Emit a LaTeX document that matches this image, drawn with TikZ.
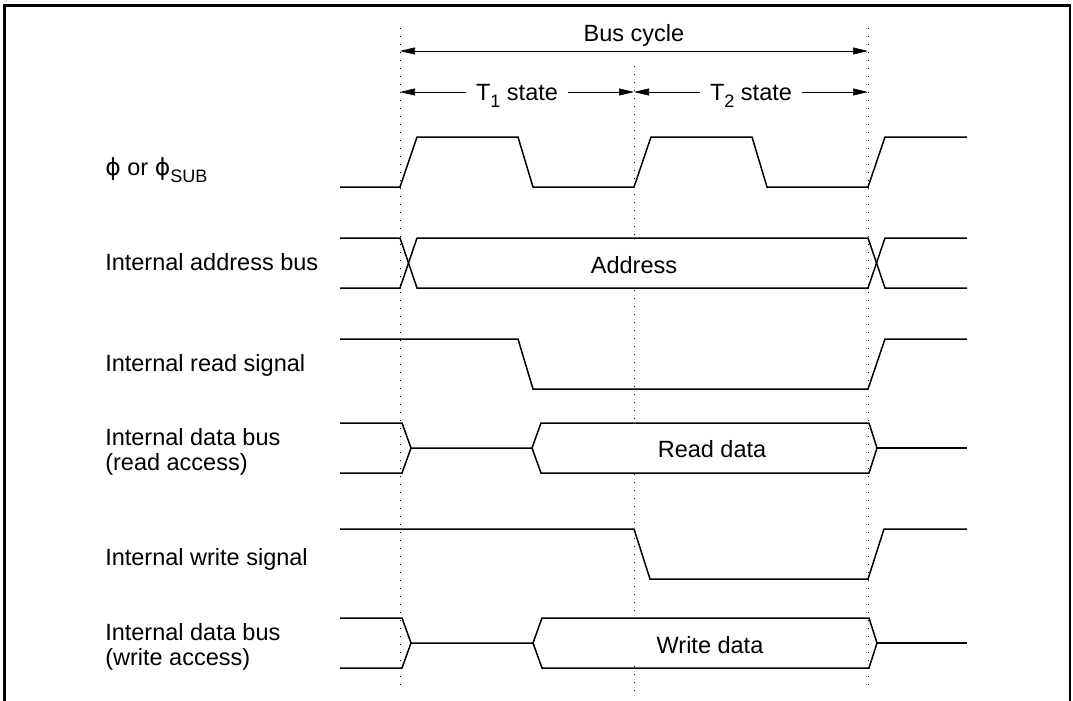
\documentclass[tikz,border=0pt]{standalone}
\usepackage{fontspec}
\setmainfont{Liberation Sans}
\newfontfamily\phifont{DejaVu Sans}
\usetikzlibrary{arrows.meta}
\newcommand\subtxt[1]{\raisebox{-0.3em}{\fontsize{18}{18}\selectfont #1}}

\begin{document}
\begin{tikzpicture}[x=1pt,y=-1pt,>={Triangle[length=15pt,width=7pt]},semithick,
		font=\fontsize{23.5}{25}\selectfont,
		sig/.style={line width=1.5pt},
		tick/.style={line width=1pt,dash pattern=on 1pt off 7pt},
		lbl/.style={anchor=base west,inner sep=0pt,align=left},
		span/.style={inner xsep=10pt,inner ysep=0pt,text height=17pt,text depth=0pt}]

		\useasboundingbox (0,0) rectangle (1073,701);
		\draw[line width=2.5pt] (4.5,705) -- (4.5,5.5) -- (1070,5.5) -- (1070,705);

		% time marks
		\coordinate (b_0) at (400,51);
		\coordinate (b_2) at (868,51);
		\coordinate (s_0) at (400,92);
		\coordinate (s_1) at (634,92);
		\coordinate (s_2) at (868,92);
		\draw[tick] (400,28) -- (400,692);
		\draw[tick] (634,66) -- (634,692);
		\draw[tick] (868,28) -- (868,692);

		% cycle and states
		\node(cyc) [anchor=base] at (634,42) {Bus cycle};
		\draw[<->] (b_0) -- (b_2);
		\node(t_1) [span] at (517,92) {T\subtxt{1} state};
		\node(t_2) [span] at (751,92) {T\subtxt{2} state};
		\draw[->] (t_1) -- (s_0);
		\draw[->] (t_1) -- (s_1);
		\draw[->] (t_2) -- (s_1);
		\draw[->] (t_2) -- (s_2);

		% signal names
		\node(n_1) [lbl] at (105,175) {{\phifont ϕ} or {\phifont ϕ}\subtxt{SUB}};
		\node(n_2) [lbl] at (105,270) {Internal address bus};
		\node(n_3) [lbl] at (105,371) {Internal read signal};
		\node(n_4) [lbl] at (105,470) {Internal data bus\\(read access)};
		\node(n_5) [lbl] at (105,565) {Internal write signal};
		\node(n_6) [lbl] at (105,665) {Internal data bus\\(write access)};

		% clock
		\draw[sig] (340,187) -- (400,187) -- (417,137) -- (518,137) -- (533,187) -- (634,187)
			-- (651,137) -- (752,137) -- (767,187) -- (868,187) -- (885,137) -- (967,137);

		% address bus
		\fill[white] (420,240) rectangle (865,286);
		\draw[sig] (340,238) -- (400,238) -- (417,288) -- (868,288) -- (885,238) -- (967,238);
		\draw[sig] (340,288) -- (400,288) -- (417,238) -- (868,238) -- (885,288) -- (967,288);
		\node(adr) at (634,265) {Address};

		% read signal
		\draw[sig] (340,339) -- (518,339) -- (533,389) -- (868,389) -- (885,339) -- (967,339);

		% data bus, read
		\fill[white] (545,425) rectangle (865,471);
		\draw[sig] (340,423) -- (402,423) -- (411,448) -- (402,473) -- (340,473);
		\draw[sig] (411,448) -- (532,448) -- (541,423) -- (869,423) -- (877,448) -- (869,473)
			-- (541,473) -- (532,448);
		\draw[sig] (877,448) -- (967,448);
		\node(rd) at (712,449) {Read data};

		% write signal
		\draw[sig] (340,529) -- (634,529) -- (650,579) -- (868,579) -- (884,529) -- (967,529);

		% data bus, write
		\fill[white] (546,620) rectangle (865,666);
		\draw[sig] (340,618) -- (402,618) -- (411,643) -- (402,668) -- (340,668);
		\draw[sig] (411,643) -- (533,643) -- (542,618) -- (869,618) -- (877,643) -- (869,668)
			-- (542,668) -- (533,643);
		\draw[sig] (877,643) -- (967,643);
		\node(wd) at (710,645) {Write data};
	\end{tikzpicture}
\end{document}
